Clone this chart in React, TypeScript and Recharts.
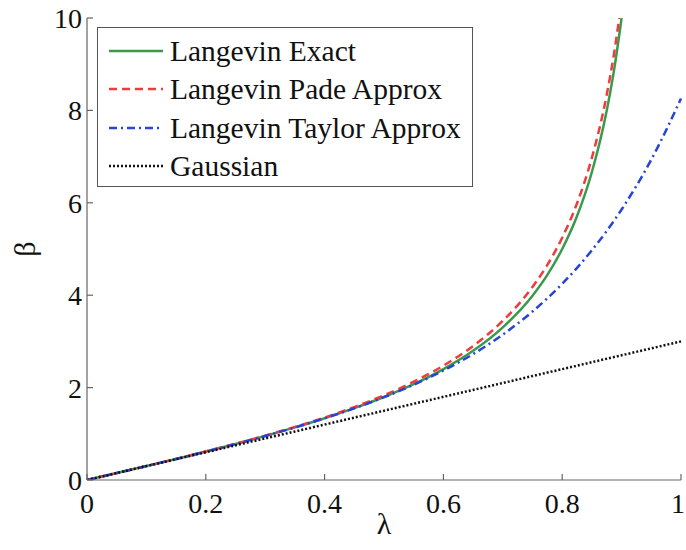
import React from 'react';
import { LineChart, Line, XAxis, YAxis, Label } from 'recharts';

// lambda grid and beta values
const lambdaValues = [0, 0.05, 0.1, 0.15, 0.2, 0.25, 0.3, 0.35, 0.4, 0.45, 0.5, 0.55, 0.6, 0.65, 0.7, 0.75, 0.775, 0.8, 0.825, 0.85, 0.875, 0.8875, 0.9, 0.95, 1];
const exactValues = [0, 0.150, 0.302, 0.456, 0.615, 0.780, 0.953, 1.138, 1.337, 1.555, 1.797, 2.073, 2.401, 2.797, 3.305, 3.99, 4.44, 5.0, 5.714, 6.667, 8.0, 8.889, 10.0, null, null];
const padeValues = [0, 0.150, 0.302, 0.457, 0.617, 0.783, 0.959, 1.148, 1.352, 1.579, 1.833, 2.127, 2.475, 2.901, 3.445, 4.179, 4.656, 5.244, 5.991, 6.976, 8.342, 9.247, 10.374, null, null];
const taylorValues = [0, 0.150, 0.302, 0.456, 0.615, 0.780, 0.953, 1.137, 1.336, 1.552, 1.792, 2.062, 2.370, 2.725, 3.147, 3.647, 3.933, 4.247, 4.592, 4.973, 5.392, 5.618, 5.856, 6.935, 8.256];
const gaussianValues = [0, 0.15, 0.3, 0.45, 0.6, 0.75, 0.9, 1.05, 1.2, 1.35, 1.5, 1.65, 1.8, 1.95, 2.1, 2.25, 2.325, 2.4, 2.475, 2.55, 2.625, 2.6625, 2.7, 2.85, 3.0];

const xTicks = [0, 0.2, 0.4, 0.6, 0.8, 1];
const yTicks = [0, 2, 4, 6, 8, 10];

const series = [
  { key: 'exact', name: 'Langevin Exact', color: '#3a9a4c', dash: undefined },
  { key: 'pade', name: 'Langevin Pade Approx', color: '#f23a3a', dash: '8 5' },
  { key: 'taylor', name: 'Langevin Taylor Approx', color: '#2743d8', dash: '8 4 2 4' },
  { key: 'gauss', name: 'Gaussian', color: '#111111', dash: '2 2' },
];

const chartData = lambdaValues.map((lam, i) => ({
  lam,
  exact: exactValues[i],
  pade: padeValues[i],
  taylor: taylorValues[i],
  gauss: gaussianValues[i],
}));

const FONT = "'Liberation Serif', 'Times New Roman', serif";
const AXIS_COLOR = '#666';

const XTick = ({ x, y, payload }: any) => (
  <g>
    <line x1={x} y1={y} x2={x} y2={y - 6} stroke={AXIS_COLOR} strokeWidth={1.2} />
    <text
      x={payload.value === 1 ? x - 3 : x}
      y={y + 33}
      textAnchor="middle"
      fontFamily={FONT}
      fontSize={28}
      fill="#111"
    >
      {payload.value}
    </text>
  </g>
);

const YTick = ({ x, y, payload }: any) => (
  <g>
    <line x1={x} y1={y} x2={x + 6} y2={y} stroke={AXIS_COLOR} strokeWidth={1.2} />
    <text x={x - 5} y={y + 10} textAnchor="end" fontFamily={FONT} fontSize={28} fill="#111">
      {payload.value}
    </text>
  </g>
);

export default function App() {
  return (
    <div style={{ position: 'absolute', left: 0, top: 0, width: 686, height: 550, background: '#fff' }}>
      <LineChart
        width={686}
        height={550}
        data={chartData}
        margin={{ top: 18, right: 5, left: 0, bottom: 0 }}
      >
        <XAxis
          dataKey="lam"
          type="number"
          domain={[0, 1]}
          ticks={xTicks}
          height={70}
          tickSize={0}
          tickMargin={0}
          tickLine={false}
          tick={<XTick />}
          axisLine={{ stroke: AXIS_COLOR, strokeWidth: 1.2 }}
        >
          <Label value="λ" position="insideBottom" offset={16} style={{ fontFamily: FONT, fontSize: 30, fill: '#111' }} />
        </XAxis>
        <YAxis
          type="number"
          domain={[0, 10]}
          ticks={yTicks}
          allowDataOverflow
          width={87}
          tickSize={0}
          tickMargin={0}
          tickLine={false}
          tick={<YTick />}
          axisLine={{ stroke: AXIS_COLOR, strokeWidth: 1.2 }}
        >
          <Label value="β" angle={-90} position="insideLeft" offset={24} style={{ fontFamily: FONT, fontSize: 30, fill: '#111', textAnchor: 'middle' }} />
        </YAxis>
        {series.map((s) => (
          <Line
            key={s.key}
            type="monotone"
            dataKey={s.key}
            name={s.name}
            stroke={s.color}
            strokeWidth={2.5}
            strokeDasharray={s.dash}
            dot={false}
            activeDot={false}
            isAnimationActive={false}
          />
        ))}
      </LineChart>

      {/* Legend */}
      <div
        style={{
          position: 'absolute',
          left: 97,
          top: 27,
          width: 376,
          height: 160,
          boxSizing: 'border-box',
          border: '1.2px solid #555',
          background: '#fff',
          fontFamily: FONT,
          fontSize: 29.5,
          color: '#111',
        }}
      >
        {series.map((s, i) => (
          <div
            key={s.key}
            style={{ position: 'absolute', left: 10, top: 4 + i * 38.3, height: 38, display: 'flex', alignItems: 'center' }}
          >
            <svg width={56} height={10} style={{ marginRight: 6 }}>
              <line x1={1} y1={5} x2={55} y2={5} stroke={s.color} strokeWidth={2.5} strokeDasharray={s.dash} />
            </svg>
            <span style={{ whiteSpace: 'nowrap', lineHeight: '38px' }}>{s.name}</span>
          </div>
        ))}
      </div>
    </div>
  );
}
